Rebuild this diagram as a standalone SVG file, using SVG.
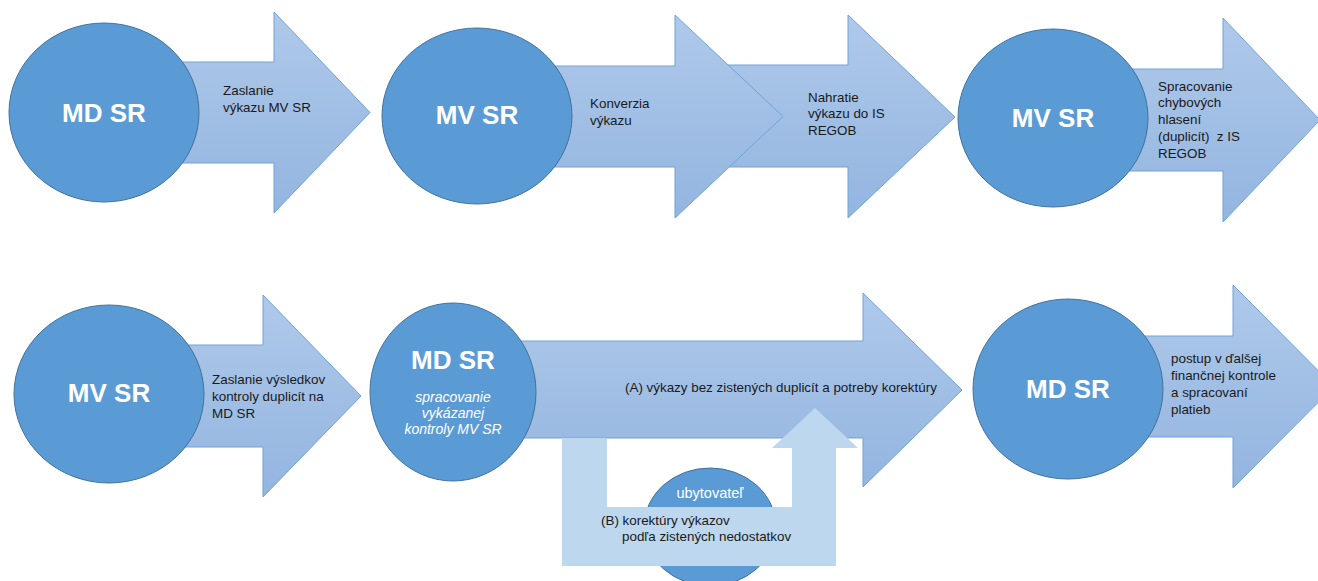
<svg xmlns="http://www.w3.org/2000/svg" width="1318" height="581" viewBox="0 0 1318 581">
<defs>
<linearGradient id="ag" x1="0" y1="0" x2="0" y2="1">
<stop offset="0" stop-color="#AFC9EA"/>
<stop offset="1" stop-color="#93B5E0"/>
</linearGradient>
<style>
.arrow{fill:url(#ag);stroke:#6FA3D8;stroke-width:1}
.node{fill:#5B9BD5;stroke:#41719C;stroke-width:1}
.title{font-family:"Liberation Sans",Arial,sans-serif;font-weight:bold;font-size:26px;fill:#fff;text-anchor:middle}
.sub{font-family:"Liberation Sans",Arial,sans-serif;font-style:italic;font-size:14px;fill:#fff;text-anchor:middle}
.lbl{font-family:"Liberation Sans",Arial,sans-serif;font-size:13.4px;fill:#1a1a1a}
.ub{font-family:"Liberation Sans",Arial,sans-serif;font-size:14.5px;fill:#fff;text-anchor:middle}
.uturn{fill:#BDD7EE;stroke:none}
</style>
</defs>
<rect width="1318" height="581" fill="#fff"/>
<g id="connectors">
<g id="arrow1"><polygon class="arrow" points="150,62 274,62 274,12 370,112.5 274,213 274,163 150,163"/>
<text class="lbl" x="223" y="95">Zaslanie</text><text class="lbl" x="223" y="112">výkazu MV SR</text></g>
<g id="arrow3"><polygon class="arrow" points="700,65 848,65 848,15 955,117 848,218 848,167 700,167"/>
<text class="lbl" x="808" y="102">Nahratie</text><text class="lbl" x="808" y="118">výkazu do IS</text><text class="lbl" x="808" y="135">REGOB</text></g>
<g id="arrow2"><polygon class="arrow" points="520,66 675,66 675,15 783,116.5 675,218 675,167 520,167"/>
<text class="lbl" x="590" y="108">Konverzia</text><text class="lbl" x="590" y="125">výkazu</text></g>
<g id="arrow4"><polygon class="arrow" points="1100,69 1223,69 1223,18 1320,120 1223,222 1223,171 1100,171"/>
<text class="lbl" x="1158" y="91">Spracovanie</text><text class="lbl" x="1158" y="107">chybových</text><text class="lbl" x="1158" y="124">hlasení</text><text class="lbl" x="1158" y="141" xml:space="preserve">(duplicít)  z IS</text><text class="lbl" x="1158" y="158">REGOB</text></g>
<g id="arrow5"><polygon class="arrow" points="150,345 263,345 263,295 361,396 263,497 263,447 150,447"/>
<text class="lbl" x="212" y="384">Zaslanie výsledkov</text><text class="lbl" x="212" y="401">kontroly duplicít na</text><text class="lbl" x="212" y="418">MD SR</text></g>
<g id="arrow6"><polygon class="arrow" points="500,341 863,341 863,293 962,390 863,487 863,438 500,438"/>
<text class="lbl" x="625" y="392">(A) výkazy bez zistených duplicít a potreby korektúry</text></g>
<g id="arrow7"><polygon class="arrow" points="1120,336 1233,336 1233,285 1334,386.5 1233,488 1233,437 1120,437"/>
<text class="lbl" x="1171" y="363">postup v ďalšej</text><text class="lbl" x="1171" y="380">finančnej kontrole</text><text class="lbl" x="1171" y="397">a spracovaní</text><text class="lbl" x="1171" y="414">platieb</text></g>
</g>
<g id="n1"><ellipse class="node" cx="104" cy="112.5" rx="95" ry="89.5"/><text class="title" x="104" y="122">MD SR</text></g>
<g id="n2"><ellipse class="node" cx="477" cy="116" rx="95" ry="88"/><text class="title" x="477" y="124">MV SR</text></g>
<g id="n3"><ellipse class="node" cx="1053" cy="118" rx="95" ry="89"/><text class="title" x="1053" y="127">MV SR</text></g>
<g id="n4"><ellipse class="node" cx="109" cy="394" rx="95" ry="89"/><text class="title" x="109" y="402">MV SR</text></g>
<g id="n5"><ellipse class="node" cx="453" cy="392" rx="83" ry="89"/><text class="title" x="453" y="369">MD SR</text>
<text class="sub" x="453" y="402">spracovanie</text><text class="sub" x="453" y="418">vykázanej</text><text class="sub" x="453" y="434">kontroly MV SR</text></g>
<g id="n6"><ellipse class="node" cx="1068" cy="389" rx="95" ry="90"/><text class="title" x="1068" y="398">MD SR</text></g>
<g id="n7"><ellipse class="node" cx="710" cy="527" rx="66" ry="59"/><text class="ub" x="710" y="498">ubytovateľ</text></g>
<g id="uturn"><polygon class="uturn" points="562,438 607,438 607,507 792,507 792,448 772,448 815,408 858,448 836,448 836,566 562,566"/>
<text class="lbl" x="601" y="525">(B) korektúry výkazov</text><text class="lbl" x="622" y="541">podľa zistených nedostatkov</text></g>
</svg>
